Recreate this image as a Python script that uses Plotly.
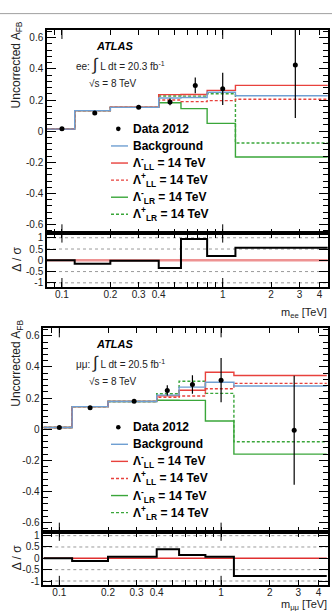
import plotly.graph_objects as go

W, H = 332, 611

# ---------------- data ----------------
bin_edges = [0.08, 0.12, 0.2, 0.4, 0.55, 0.8, 1.2, 4.5]

ee_data_x = [0.10, 0.16, 0.30, 0.47, 0.675, 1.0, 2.83]
ee_data_y = [0.015, 0.117, 0.153, 0.188, 0.294, 0.272, 0.425]
ee_data_err = [0.005, 0.005, 0.005, 0.022, 0.05, 0.104, 0.34]
ee_bkg = [0.013, 0.132, 0.153, 0.213, 0.216, 0.25, 0.228]
ee_ll_minus = [0.013, 0.132, 0.154, 0.235, 0.236, 0.262, 0.294]
ee_ll_plus = [0.013, 0.132, 0.153, 0.200, 0.19, 0.196, 0.205]
ee_lr_minus = [0.013, 0.132, 0.153, 0.183, 0.145, 0.05, -0.166]
ee_lr_plus = [0.013, 0.132, 0.153, 0.226, 0.225, 0.24, -0.076]
ee_pull = [0.0, -0.15, -0.02, -0.34, 0.95, 0.19, 0.56]

mm_data_x = [0.10, 0.155, 0.29, 0.465, 0.665, 1.0, 2.83]
mm_data_y = [0.011, 0.138, 0.179, 0.249, 0.287, 0.315, -0.006]
mm_data_err = [0.005, 0.005, 0.005, 0.033, 0.06, 0.142, 0.35]
mm_bkg = [0.011, 0.145, 0.178, 0.219, 0.27, 0.302, 0.277]
mm_ll_minus = [0.011, 0.145, 0.179, 0.214, 0.25, 0.366, 0.345]
mm_ll_plus = [0.011, 0.145, 0.178, 0.205, 0.213, 0.26, 0.294]
mm_lr_minus = [0.011, 0.145, 0.178, 0.186, 0.185, 0.053, -0.16]
mm_lr_plus = [0.011, 0.145, 0.178, 0.228, 0.308, 0.23, -0.081]
mm_pull = [0.0, -0.12, 0.07, 0.4, 0.15, 0.07, -0.78]

x_tick_vals = [0.1, 0.2, 0.3, 0.4, 1, 2, 3, 4]
x_tick_text = ["0.1", "0.2", "0.3", "0.4", "1", "2", "3", "4"]
x_minor_vals = [0.09, 0.5, 0.6, 0.7, 0.8, 0.9]
y_tick_vals = [-0.6, -0.4, -0.2, 0, 0.2, 0.4, 0.6]
y_tick_text = ["-0.6", "-0.4", "-0.2", "0", "0.2", "0.4", "0.6"]
r_tick_vals = [-1, -0.5, 0, 0.5, 1]
r_tick_text = ["-1", "-0.5", "0", "0.5", "1"]

legend_labels = ["<b>Data 2012</b>", "<b>Background</b>",
                 "<b>Λ<sup>-</sup><sub>LL</sub> = 14 TeV</b>",
                 "<b>Λ<sup>+</sup><sub>LL</sub> = 14 TeV</b>",
                 "<b>Λ<sup>-</sup><sub>LR</sub> = 14 TeV</b>",
                 "<b>Λ<sup>+</sup><sub>LR</sub> = 14 TeV</b>"]

BLUE = "#6f9fd2"
RED = "#e8413c"
GREEN = "#3aa63a"
FONT = "Liberation Sans, Arial, sans-serif"


def px(x):
    return x / W


def py(y):
    return 1 - y / H


def step(vals):
    return list(vals) + [vals[-1]]


fig = go.Figure()

panels = [
    dict(main=("x", "y"), ratio=("x2", "y2"), data=(ee_data_x, ee_data_y, ee_data_err),
         curves=(ee_lr_plus, ee_lr_minus, ee_ll_plus, ee_ll_minus, ee_bkg), pull=ee_pull,
         pullcol="rgba(232,110,110,0.75)", pullw=2.5),
    dict(main=("x3", "y3"), ratio=("x4", "y4"), data=(mm_data_x, mm_data_y, mm_data_err),
         curves=(mm_lr_plus, mm_lr_minus, mm_ll_plus, mm_ll_minus, mm_bkg), pull=mm_pull,
         pullcol="#e03030", pullw=1.5),
]

styles = [(GREEN, "3px,2px"), (GREEN, "solid"), (RED, "3px,2px"), (RED, "solid"), (BLUE, "solid")]

for p in panels:
    xa, ya = p["main"]
    for vals, (col, dash) in zip(p["curves"], styles):
        fig.add_trace(go.Scatter(x=bin_edges, y=step(vals), mode="lines", line_shape="hv",
                                 line=dict(color=col, width=1.4, dash=dash),
                                 xaxis=xa, yaxis=ya, showlegend=False, hoverinfo="skip"))
    dx, dy, de = p["data"]
    fig.add_trace(go.Scatter(x=dx, y=dy, mode="markers",
                             marker=dict(color="black", size=5),
                             error_y=dict(type="data", array=de, color="black", thickness=1.2, width=0),
                             xaxis=xa, yaxis=ya, showlegend=False))
    rx, ry = p["ratio"]
    fig.add_trace(go.Scatter(x=[bin_edges[0], bin_edges[-1]], y=[0, 0], mode="lines",
                             line=dict(color=p["pullcol"], width=p["pullw"]),
                             xaxis=rx, yaxis=ry, showlegend=False, hoverinfo="skip"))
    fig.add_trace(go.Scatter(x=bin_edges, y=step(p["pull"]), mode="lines", line_shape="hv",
                             line=dict(color="black", width=2),
                             xaxis=rx, yaxis=ry, showlegend=False, hoverinfo="skip"))

tickfont = dict(family=FONT, size=10, color="#222")


def xax(domain, rng, labels):
    return dict(type="log", domain=domain, range=rng, showline=True, linecolor="black", linewidth=1.5,
                mirror="ticks", ticks="inside", ticklen=5, tickwidth=1, tickcolor="black",
                tickvals=x_tick_vals, ticktext=x_tick_text, showticklabels=labels,
                ticklabelstandoff=-3,
                minor=dict(tickvals=x_minor_vals, ticks="inside", ticklen=5, tickcolor="black"),
                showgrid=False, zeroline=False, tickfont=tickfont)


def yax(domain, rng, vals, text, anchor, minor_dtick):
    d = dict(domain=domain, range=rng, showline=True, linecolor="black", linewidth=1.5,
             mirror="ticks", ticks="inside", ticklen=9, tickwidth=1, tickcolor="black",
             tickvals=vals, ticktext=text, showgrid=False, zeroline=False,
             tickfont=tickfont, anchor=anchor)
    if minor_dtick:
        d["minor"] = dict(dtick=minor_dtick, tick0=0, ticks="inside", ticklen=5, tickcolor="black")
    return d


top_x = [px(47), px(328)]
bot_x = [px(43.3), px(327.7)]

fig.update_layout(
    width=W, height=H, margin=dict(l=0, r=0, t=0, b=0),
    paper_bgcolor="white", plot_bgcolor="white",
    font=dict(family=FONT, color="#222"),
    xaxis=dict(xax(top_x, [-1.093, 0.655], False), anchor="y"),
    xaxis2=dict(xax(top_x, [-1.093, 0.655], True), anchor="y2"),
    xaxis3=dict(xax(bot_x, [-1.099, 0.659], False), anchor="y3"),
    xaxis4=dict(xax(bot_x, [-1.099, 0.659], True), anchor="y4"),
    yaxis=yax([py(233), py(28)], [-0.657, 0.651], y_tick_vals, y_tick_text, "x", 0.04),
    yaxis2=yax([py(287), py(233)], [-1.19, 1.19], r_tick_vals, r_tick_text, "x2", None),
    yaxis3=yax([py(533.3), py(328.3)], [-0.659, 0.649], y_tick_vals, y_tick_text, "x3", 0.04),
    yaxis4=yax([py(586.7), py(533.3)], [-1.17, 1.17], r_tick_vals, r_tick_text, "x4", None),
)

shapes = []
# separator line at the very top
shapes.append(dict(type="line", xref="paper", yref="paper", x0=0, x1=1, y0=py(11.7), y1=py(11.7),
                   line=dict(color="#a0a0a0", width=1)))
# dotted reference lines in ratio panels
for rx, ry in [("x2", "y2"), ("x4", "y4")]:
    for v in [-1, -0.5, 0.5, 1]:
        shapes.append(dict(type="line", xref=rx + " domain", yref=ry, x0=0, x1=1, y0=v, y1=v,
                           line=dict(color="#9a9a9a", width=1, dash="dot"), layer="below"))
    # long major ticks at 0.1 and 1
    for xv in [0.1, 1]:
        shapes.append(dict(type="line", xref=rx, yref=ry + " domain", x0=xv, x1=xv, y0=0, y1=0.17,
                           line=dict(color="black", width=1)))
        shapes.append(dict(type="line", xref=rx, yref=ry + " domain", x0=xv, x1=xv, y0=0.83, y1=1,
                           line=dict(color="black", width=1)))
for mx, my in [("x", "y"), ("x3", "y3")]:
    for xv in [0.1, 1]:
        shapes.append(dict(type="line", xref=mx, yref=my + " domain", x0=xv, x1=xv, y0=0, y1=0.045,
                           line=dict(color="black", width=1)))
        shapes.append(dict(type="line", xref=mx, yref=my + " domain", x0=xv, x1=xv, y0=0.955, y1=1,
                           line=dict(color="black", width=1)))

annotations = []


def text(x, y, s, size, xanchor="left", angle=0, yanchor="middle", color="#222"):
    annotations.append(dict(x=px(x), y=py(y), xref="paper", yref="paper", text=s, showarrow=False,
                            xanchor=xanchor, yanchor=yanchor, textangle=angle,
                            font=dict(family=FONT, size=size, color=color)))


legend_styles = [None, (BLUE, "solid"), (RED, "solid"), (RED, "3px,2px"), (GREEN, "solid"), (GREEN, "3px,2px")]

for off, chan, lumi, ytop, xt, xty in [(0, "ee:", "20.3", 28, "m<sub>ee</sub> [TeV]", 313),
                                       (300.3, "μμ:", "20.5", 328.3, "m<sub>μμ</sub> [TeV]", 606.5)]:
    text(115, 44 + off, "<b><i>ATLAS</i></b>", 11, xanchor="center", color="black")
    text(74, 63 + off, chan + " <span style='font-size:17px'>∫</span> L dt = " + lumi + " fb<sup>-1</sup>", 10)
    text(87, 82 + off, "√s = 8 TeV", 10)
    text(17, ytop - 10, "Uncorrected A<sub>FB</sub>", 12, xanchor="center", angle=-90, yanchor="top")
    # legend
    for i, (lab, st) in enumerate(zip(legend_labels, legend_styles)):
        yy = 127.7 + off + i * 17.2
        text(131, yy, lab, 12, color="black")
        if st is None:
            shapes.append(dict(type="circle", xref="paper", yref="paper",
                               x0=px(118.3 - 2.3), x1=px(118.3 + 2.3), y0=py(yy - 2.3), y1=py(yy + 2.3),
                               fillcolor="black", line=dict(color="black", width=0)))
        else:
            shapes.append(dict(type="line", xref="paper", yref="paper", x0=px(111), x1=px(128),
                               y0=py(yy), y1=py(yy), line=dict(color=st[0], width=1.4, dash=st[1])))
    text(17, 259.5 + off, "Δ / σ", 12, xanchor="center", angle=-90)
    text(329, xty, xt, 11, xanchor="right")

fig.update_layout(shapes=shapes, annotations=annotations)

fig.write_html("out.html")
